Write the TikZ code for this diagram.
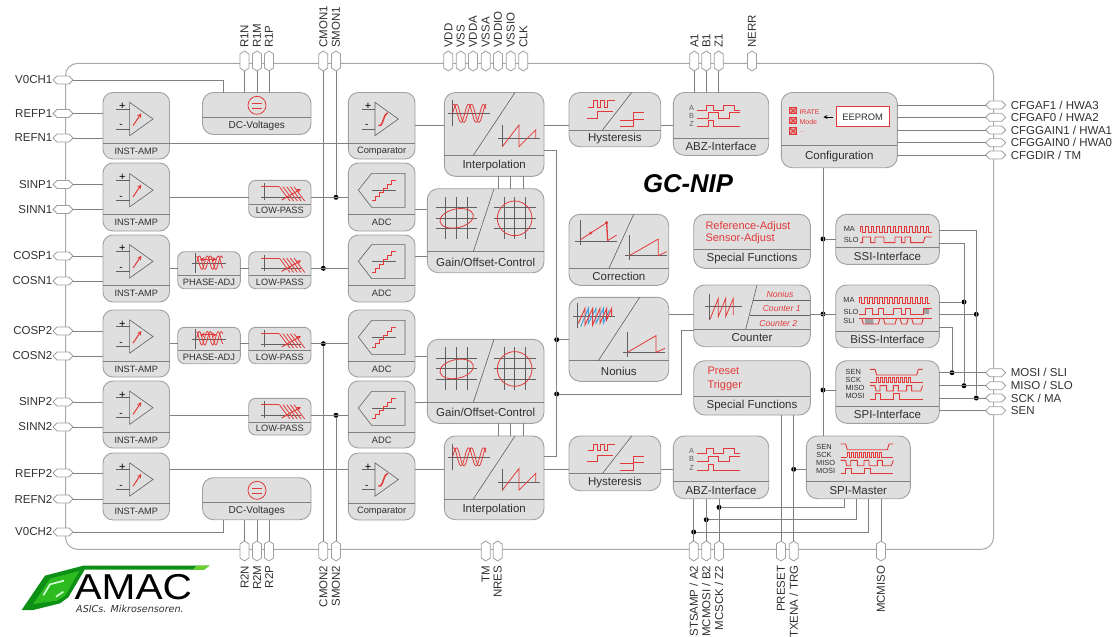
\documentclass[tikz,border=0pt]{standalone}
\usepackage{fontspec}
\usepackage{graphicx}
\setmainfont{Liberation Sans}
\newfontfamily\logofont{DejaVu Sans}
\definecolor{boxfill}{HTML}{DFDFDF}
\definecolor{boxline}{HTML}{A0A0A0}
\definecolor{wirec}{HTML}{808080}
\definecolor{framec}{HTML}{A8A8A8}
\definecolor{txt}{HTML}{303030}
\definecolor{redi}{HTML}{E23A3A}
\definecolor{bluei}{HTML}{3CA0E0}
\definecolor{axisc}{HTML}{606060}
\definecolor{logodark}{HTML}{0E8F16}
\definecolor{logobright}{HTML}{2DBB1F}
\definecolor{logotail}{HTML}{6CD02E}
\newcommand\fs[1]{\fontsize{#1}{#1}\selectfont}
\tikzset{
 blockbox/.style={draw=boxline,fill=boxfill,line width=.9pt,inner sep=0pt,outer sep=0pt,rectangle},
 sepline/.style={draw=wirec,line width=1pt},
 blocklabel/.style={text=txt,inner sep=0pt},
 wire/.style={draw=wirec,line width=1pt},
 framel/.style={draw=framec,line width=1pt},
 slashl/.style={draw=axisc,line width=.6pt},
 axisl/.style={draw=axisc,line width=.6pt},
 redw/.style={draw=redi,line width=.8pt},
 pinshape/.style={draw=boxline,fill=white,line width=.8pt},
 pinh/.style={rectangle,inner sep=0pt,outer sep=0pt,minimum width=20pt,minimum height=8pt},
 pinv/.style={rectangle,inner sep=0pt,outer sep=0pt,minimum width=9pt,minimum height=20pt},
 pintext/.style={text=txt,font=\fs{11.5},inner sep=0pt},
 junc/.style={circle,fill=black,inner sep=0pt,minimum size=5pt},
 icontext/.style={text=txt,font=\fs{7.4},inner sep=0pt},
 redtext/.style={text=redi,font=\fs{11},inner sep=0pt,anchor=west},
 reditalic/.style={text=redi,font=\fs{8.6}\itshape,inner sep=0pt},
}
% name x1 y1 x2 y2 sep label size radius
\newcommand\blk[9]{%
 \node[blockbox,rounded corners=#9pt,anchor=north west,minimum width={(#4-#2)*1pt},minimum height={(#5-#3)*1pt}] (#1) at (#2,#3) {};
 \draw[sepline] (#2,#6) -- (#4,#6);
 \node[blocklabel,font=\fs{#8}] (#1l) at ({(#2+#4)/2},{(#6+#5)/2}) {#7};}
\newcommand\hexh[2]{\draw[pinshape,shift={(#1,#2)}] (-10,0) -- (-6,-4) -- (6,-4) -- (10,0) -- (6,4) -- (-6,4) -- cycle;}
\newcommand\hexv[2]{\draw[pinshape,shift={(#1,#2)}] (0,-10) -- (4.5,-7) -- (4.5,7) -- (0,10) -- (-4.5,7) -- (-4.5,-7) -- cycle;}
\newcommand\pinL[3]{\hexh{63}{#2}\node[pinh] (p#1) at (63,#2) {}; \node[pintext,anchor=east] (t#1) at (52.5,#2) {#3};}
\newcommand\pinR[3]{\hexh{995.7}{#2}\node[pinh] (p#1) at (995.7,#2) {}; \node[pintext,anchor=west] (t#1) at (1010.7,#2) {#3};}
\newcommand\pinT[3]{\hexv{#2}{61}\node[pinv] (p#1) at (#2,61) {}; \node[pintext,rotate=90,anchor=west] (t#1) at (#2,48) {#3};}
\newcommand\pinB[3]{\hexv{#2}{551}\node[pinv] (p#1) at (#2,551) {}; \node[pintext,rotate=90,anchor=east] (t#1) at (#2,565.5) {#3};}
\newcommand\ico[3]{\begin{scope}[shift={(#1,#2)},scale=0.33333]#3\end{scope}}
\newcommand\pulses[5]{\draw[redw] (#1,#5) foreach \i in {1,...,#3} { -- ({#1+(\i-1)*#2},#4) -- ({#1+(\i-0.5)*#2},#4) -- ({#1+(\i-0.5)*#2},#5) -- ({#1+\i*#2},#5)};}
\newcommand\ampicon[1]{\ico{0}{#1}{
 \draw[draw=axisc,line width=.6pt] (389,307) -- (389,407) -- (459,357) -- cycle;
 \draw[axisl] (347,327) -- (389,327) (347,387) -- (389,387);
 \node[text=black,font=\fs{11},inner sep=0pt] (plus) at (367,319) {+};
 \node[text=black,font=\fs{10},inner sep=0pt] (minus) at (363,379) {-};
 \draw[draw=redi,line width=1pt,-stealth] (399,377) -- (424,340);}}
\newcommand\compicon[1]{\ico{340}{#1}{
 \draw[draw=axisc,line width=.6pt] (105,307) -- (105,407) -- (175,357) -- cycle;
 \draw[axisl] (65,327) -- (105,327) (65,387) -- (105,387);
 \node[text=black,font=\fs{11},inner sep=0pt] (plus) at (84,319) {+};
 \node[text=black,font=\fs{10},inner sep=0pt] (minus) at (80,379) {-};
 \draw[draw=redi,line width=1.5pt] (115,376) -- (122,376) .. controls (130,370) and (130,345) .. (143,338);}}
\newcommand\lpicon[1]{\ico{0}{#1}{
 \draw[axisl] (783,592) -- (903,592) (793,550) -- (793,600);
 \draw[redw,line width=1pt] (783,560) -- (838,560);
 \foreach \i in {0,...,4} {\draw[redw] ({838+\i*11},560) -- ({870+\i*11},603);}
 \draw[draw=redi,line width=1pt,-stealth] (845,600) -- (903,567);}}
\newcommand\phaseicon[1]{\ico{0}{#1}{
 \draw[axisl] (575,790) -- (677,790) (585,760) -- (585,820);
 \draw[redw] plot[domain=590:668,samples=50] (\x,{788-20*sin((\x-590)*11)});
 \draw[redw] plot[domain=590:668,samples=50] (\x,{788-20*sin((\x-590)*11+100)});
 \draw[draw=redi,line width=1pt,stealth-stealth] (600,778) -- (650,778);}}
\newcommand\adcicon[1]{\ico{340}{#1}{
 \draw[draw=axisc,line width=.6pt] (55,570) -- (95,520) -- (195,520) -- (195,622) -- (95,622) -- cycle;
 \draw[axisl] (95,570) -- (167,570);
 \draw[redw,line width=.9pt] (97,602) -- (107,602) -- (107,590) -- (118,590) -- (118,578) -- (130,578) -- (130,565) -- (143,565) -- (143,552) -- (155,552) -- (155,540) -- (167,540);}}
\newcommand\interpicon[1]{\ico{340}{#1}{
 \draw[axisl] (325,340) -- (450,340) (338,300) -- (338,378);
 \draw[redw] plot[domain=338:438,samples=60] (\x,{340-27*sin((\x-338)*8)});
 \draw[redw] plot[domain=338:438,samples=60] (\x,{340-27*sin((\x-338)*8+70)});
 \draw[axisl] (475,415) -- (600,415) (487,375) -- (487,442);
 \draw[redw] (487,440) -- (537,375) -- (537,440) -- (587,390) -- (587,415);}}
\newcommand\gainicon[1]{\ico{340}{#1}{
 \draw[axisl] (287,622) -- (412,622) (287,686) -- (412,686) (317,590) -- (317,718) (349,590) -- (349,718) (381,590) -- (381,718);
 \draw[draw=axisc,line width=1pt] (287,655) -- (412,655);
 \draw[redw,rotate around={12:(350,655)}] (350,655) ellipse [x radius=51,y radius=28];
 \draw[axisl] (461,622) -- (587,622) (461,686) -- (587,686) (492,590) -- (492,718) (524,590) -- (524,718) (556,590) -- (556,718);
 \draw[draw=axisc,line width=1pt] (461,655) -- (587,655);
 \draw[redw] (524,655) circle [radius=52];}}
\newcommand\hysticon[1]{\ico{340}{#1}{
 \draw[redw] (743,322) -- (760,322) -- (760,302) -- (772,302) -- (772,322) -- (782,322) -- (782,302) -- (792,302) -- (792,322) -- (803,322) -- (803,302) -- (825,302);
 \draw[redw] (740,355) -- (772,355) -- (772,335) -- (820,335);
 \draw[redw] (840,360) -- (880,360) -- (880,338) -- (912,338);
 \draw[redw] (840,380) -- (880,380) -- (880,358) -- (912,358);}}
\newcommand\abzicon[1]{\ico{680}{#1}{
 \node[icontext,text=axisc] (la) at (35,323) {A};
 \node[icontext,text=axisc] (lb) at (35,347) {B};
 \node[icontext,text=axisc] (lz) at (35,372) {Z};
 \draw[redw] (52,330) -- (80,330) -- (80,315) -- (100,315) -- (100,330) -- (130,330) -- (130,315) -- (163,315) -- (163,330) -- (180,330);
 \draw[redw] (52,354) -- (85,354) -- (85,338) -- (115,338) -- (115,354) -- (147,354) -- (147,338) -- (180,338);
 \draw[redw] (52,379) -- (85,379) -- (85,362) -- (100,362) -- (100,379) -- (180,379);}}
\newcommand\spiicon[2]{\ico{#1}{#2}{
 \node[icontext] (l1) at (910,337) {SEN};
 \node[icontext] (l2) at (910,361) {SCK};
 \node[icontext] (l3) at (915,385) {MISO};
 \node[icontext] (l4) at (915,409) {MOSI};
 \draw[redw,line width=.9pt] (960,328) -- (975,328) -- (980,345) -- (1100,345) -- (1105,328) -- (1118,328);
 \draw[redw,line width=.9pt] (960,368) -- (980,368);
 \pulses{980}{12}{9}{352}{368}
 \draw[redw,line width=.9pt] (1088,368) -- (1118,368);
 \draw[redw,line width=.9pt] (960,377) -- (975,377) -- (978,393) -- (990,393) -- (990,377) -- (1010,377) -- (1010,393) -- (1030,393) -- (1030,377) -- (1045,377) -- (1045,393) -- (1070,393) -- (1070,377) -- (1085,377) -- (1085,393) -- (1112,393) -- (1118,377);
 \draw[redw,line width=.9pt] (960,417) -- (975,417) -- (975,400) -- (992,400) -- (992,417) -- (1030,417) -- (1030,400) -- (1048,400) -- (1048,417) -- (1118,417);}}
\begin{document}
\begin{tikzpicture}[x=1pt,y=-1pt]
\useasboundingbox (0,0) rectangle (1117,637);
% outer frame
\draw[framel,rounded corners=12pt] (65.5,63.4) rectangle (993.5,549.3);
% pins
\pinL{VA}{80}{V0CH1}\pinL{RP1}{113.5}{REFP1}\pinL{RN1}{138}{REFN1}
\pinL{SP1}{184.5}{SINP1}\pinL{SN1}{209.5}{SINN1}
\pinL{CP1}{256}{COSP1}\pinL{CN1}{281}{COSN1}
\pinL{CP2}{331}{COSP2}\pinL{CN2}{356}{COSN2}
\pinL{SP2}{402}{SINP2}\pinL{SN2}{427}{SINN2}
\pinL{RP2}{473}{REFP2}\pinL{RN2}{499}{REFN2}\pinL{VB}{532}{V0CH2}
\pinT{R1N}{244.5}{R1N}\pinT{R1M}{257}{R1M}\pinT{R1P}{269}{R1P}
\pinT{CM1}{323.3}{CMON1}\pinT{SM1}{336}{SMON1}
\pinT{VDD}{448.3}{VDD}\pinT{VSS}{460.7}{VSS}\pinT{VDDA}{473}{VDDA}\pinT{VSSA}{485.7}{VSSA}
\pinT{VDDIO}{498}{VDDIO}\pinT{VSSIO}{510.7}{VSSIO}\pinT{CLK}{523.3}{CLK}
\pinT{A1}{694.3}{A1}\pinT{B1}{706.3}{B1}\pinT{Z1}{718.7}{Z1}\pinT{NERR}{752}{NERR}
\pinB{R2N}{244.5}{R2N}\pinB{R2M}{257}{R2M}\pinB{R2P}{269}{R2P}
\pinB{CM2}{323.3}{CMON2}\pinB{SM2}{336}{SMON2}
\pinB{TM}{485.7}{TM}\pinB{NRES}{497.7}{NRES}
\pinB{A2}{693.7}{STSAMP / A2}\pinB{B2}{706.3}{MCMOSI / B2}\pinB{Z2}{719}{MCSCK / Z2}
\pinB{PRE}{781}{PRESET}\pinB{TXE}{793.7}{TXENA / TRG}\pinB{MCM}{881}{MCMISO}
\pinR{CF1}{105}{CFGAF1 / HWA3}\pinR{CF2}{117.3}{CFGAF0 / HWA2}\pinR{CF3}{130}{CFGGAIN1 / HWA1}
\pinR{CF4}{142.7}{CFGGAIN0 / HWA0}\pinR{CF5}{155}{CFGDIR / TM}
\pinR{MOSI}{372.7}{MOSI / SLI}\pinR{MISO}{385.7}{MISO / SLO}\pinR{SCK}{398}{SCK / MA}\pinR{SEN}{410.7}{SEN}
% blocks
\blk{amp1}{103}{92.5}{169.5}{159}{143}{INST-AMP}{9.2}{10}
\blk{amp2}{103}{163}{169.5}{231}{214}{INST-AMP}{9.2}{10}
\blk{amp3}{103}{235}{169.5}{302}{285}{INST-AMP}{9.2}{10}
\blk{amp4}{103}{310}{169.5}{377}{361}{INST-AMP}{9.2}{10}
\blk{amp5}{103}{381}{169.5}{448}{432}{INST-AMP}{9.2}{10}
\blk{amp6}{103}{453}{169.5}{520}{503}{INST-AMP}{9.2}{10}
\blk{dc1}{202.5}{92.5}{311}{134.5}{117.5}{DC-Voltages}{10}{11}
\blk{dc2}{202.5}{477.7}{311}{519.7}{502.7}{DC-Voltages}{10}{11}
\blk{lp1}{248.7}{180.3}{311}{217.3}{204.3}{LOW-PASS}{9.2}{7}
\blk{lp2}{248.7}{251.7}{311}{288.7}{275.3}{LOW-PASS}{9.2}{7}
\blk{lp3}{248.7}{327.3}{311}{363.7}{350.7}{LOW-PASS}{9.2}{7}
\blk{lp4}{248.7}{398.3}{311}{435}{422}{LOW-PASS}{9.2}{7}
\blk{ph1}{177.7}{251.7}{240.3}{288.7}{275.3}{PHASE-ADJ}{9.3}{7}
\blk{ph2}{177.7}{327.3}{240.3}{363.7}{350.7}{PHASE-ADJ}{9.3}{7}
\blk{cmp1}{348.3}{92.5}{415}{159}{143}{Comparator}{9.3}{10}
\blk{adc1}{348.3}{163}{415}{231}{214}{ADC}{9.3}{10}
\blk{adc2}{348.3}{235}{415}{302}{285}{ADC}{9.3}{10}
\blk{adc3}{348.3}{310}{415}{377}{361}{ADC}{9.3}{10}
\blk{adc4}{348.3}{381}{415}{448}{432}{ADC}{9.3}{10}
\blk{cmp2}{348.3}{453}{415}{520}{503}{Comparator}{9.3}{10}
\blk{int1}{444.3}{92.5}{544}{176.3}{155.3}{Interpolation}{11.5}{11}
\blk{int2}{444.3}{436}{544}{519.7}{499}{Interpolation}{11.5}{11}
\blk{gain1}{427.3}{188.7}{544}{272.7}{251.7}{Gain/Offset-Control}{11.5}{11}
\blk{gain2}{427.3}{339.3}{544}{423.3}{402.3}{Gain/Offset-Control}{11.5}{11}
\blk{hyst1}{569}{92.5}{660.7}{146.7}{130.3}{Hysteresis}{11.5}{11}
\blk{hyst2}{569}{436}{660.7}{490.7}{473.7}{Hysteresis}{11.5}{11}
\blk{abz1}{673.3}{92.5}{768.7}{155.3}{138.3}{ABZ-Interface}{11.5}{11}
\blk{abz2}{673.3}{436}{768.7}{498.7}{481.7}{ABZ-Interface}{11.5}{11}
\blk{cfg}{781.3}{92.5}{897.3}{167.7}{145}{Configuration}{11.5}{11}
\blk{corr}{569}{214.3}{668.7}{285.3}{268.3}{Correction}{11.5}{11}
\blk{non}{569}{297.3}{668.7}{381.3}{360.7}{Nonius}{11.5}{11}
\blk{spf1}{693.7}{214.3}{810.3}{268.3}{249.3}{Special Functions}{11.5}{11}
\blk{cnt}{693.7}{285}{810.3}{346.7}{329.3}{Counter}{11.5}{11}
\blk{spf2}{693.7}{360.7}{810.3}{415}{396.3}{Special Functions}{11.5}{11}
\blk{ssi}{835.7}{214.3}{939.3}{264.3}{247.7}{SSI-Interface}{11.5}{11}
\blk{biss}{835.7}{285}{939.3}{347.7}{331.3}{BiSS-Interface}{11.5}{11}
\blk{spi}{835.7}{360.7}{939.3}{423.3}{406.3}{SPI-Interface}{11.5}{11}
\blk{mst}{806.3}{436}{910.3}{498.7}{481.7}{SPI-Master}{11.5}{11}
% slashes
\draw[slashl] (515,92.5) -- (473.3,155.3) (515,436) -- (473.3,499);
\draw[slashl] (494,188.7) -- (473.3,251.7) (494,339.3) -- (473.3,402.3);
\draw[slashl] (631.7,92.5) -- (602.3,130.3) (631.7,436) -- (602.3,473.7);
\draw[slashl] (633.7,214.3) -- (609,268.3) (639.7,297.3) -- (598.3,360.7);
\draw[slashl] (757,285) -- (745.7,329.3);
\draw[slashl] (753.4,300.7) -- (810.3,300.7) (749.8,315) -- (810.3,315);
% icons
\ampicon{0}\ampicon{71.2}\ampicon{142.4}\ampicon{217.5}\ampicon{288.7}\ampicon{360.5}
\compicon{0}\compicon{360.5}
\lpicon{0}\lpicon{71.4}\lpicon{147}\lpicon{218}
\phaseicon{0}\phaseicon{75.6}
\adcicon{0}\adcicon{71.3}\adcicon{147}\adcicon{218}
\interpicon{0}\interpicon{343.5}
\gainicon{0}\gainicon{150.6}
\hysticon{0}\hysticon{343.5}
\abzicon{0}\abzicon{343.7}
\foreach \dy in {0,385} {\ico{0}{\dy}{
 \draw[redw,line width=.8pt] (771,316) circle [radius=27];
 \draw[redw,line width=.8pt] (755,309) -- (787,309) (755,324) -- (787,324);}}
% correction icon
\ico{340}{0}{
 \draw[axisl] (705,723) -- (832,723) (720,660) -- (720,735);
 \draw[redw] (720,720) -- (800,668);
 \draw[redw,line width=1.3pt] (800,668) -- (803,722);
 \draw[redw] (803,722) -- (830,705);
 \fill[redi] (752,699) circle [radius=5] (800,668) circle [radius=5];
 \draw[axisl] (868,705) -- (868,780);
 \draw[draw=axisc,line width=1pt] (855,767) -- (980,767);
 \draw[redw] (868,767) -- (955,717) -- (955,767) -- (980,755);}
% nonius icon
\ico{550}{260}{
 \draw[axisl] (70,170) -- (195,170) (82,130) -- (82,205);
 \draw[draw=bluei,line width=.9pt] (92,200) -- (115,145) -- (115,190) -- (138,145) -- (138,190) -- (160,145) -- (160,190) -- (178,150);
 \draw[redw,line width=.9pt] (85,190) -- (105,145) -- (105,195) -- (128,145) -- (128,195) -- (150,145) -- (150,190) -- (170,145) -- (170,180) -- (185,145) -- (185,170);
 \draw[axisl] (220,277) -- (345,277) (232,215) -- (232,290);
 \draw[redw] (232,277) -- (318,227) -- (318,277) -- (345,265);
 % counter icon
 \draw[axisl] (465,140) -- (575,140) (477,102) -- (477,180);
 \draw[redw] (480,178) -- (505,115) -- (505,170) -- (527,115) -- (527,170) -- (550,115) -- (550,165);
 \node[reditalic] (cn1) at (690,102) {Nonius};
 \node[reditalic] (cn2) at (695,146) {Counter 1};
 \node[reditalic] (cn3) at (685,190) {Counter 2};
 % biss icon
 \node[icontext] (bma) at (897,120) {MA};
 \node[icontext] (bsl) at (903,155) {SLO};
 \node[icontext] (bsi) at (897,184) {SLI};
 \fill[boxline] (1120,147) rectangle (1137,162) (945,177) rectangle (970,192);
 \pulses{928}{15.2}{14}{113}{130}
 \draw[redw,line width=.9pt] (928,162) -- (945,162) -- (945,145) -- (968,145) -- (968,162) -- (985,162) -- (985,145) -- (1000,145) -- (1000,162) -- (1030,162) -- (1030,145) -- (1055,145) -- (1055,162) -- (1065,162) -- (1065,145) -- (1080,145) -- (1080,162) -- (1120,162) -- (1120,145) -- (1145,145);
 \draw[redw,line width=.9pt] (928,175) -- (1145,175);
 \draw[redw,line width=.9pt] (935,175) -- (940,192) -- (985,192) -- (990,175) (1000,175) -- (1005,192) -- (1035,192) -- (1040,175) (1050,175) -- (1055,192) -- (1070,192) -- (1075,175) (1085,175) -- (1090,192) -- (1115,192) -- (1120,175);
}
\spiicon{550}{260}
\spiicon{520.7}{334.7}
% ssi icon
\ico{680}{0}{
 \node[icontext] (sma) at (508,688) {MA};
 \node[icontext] (ssl) at (514,720) {SLO};
 \pulses{540}{16.5}{13}{680}{697}
 \draw[redw,line width=.9pt] (540,728) -- (548,728) -- (548,711) -- (572,711) -- (572,728) -- (585,728) -- (585,711) -- (612,711) -- (612,728) -- (645,728) -- (645,711) -- (665,711) -- (665,728) -- (675,728) -- (675,711) -- (692,711) -- (692,728) -- (730,728) -- (735,711) -- (755,711);
 % configuration icon
 \foreach \yy in {332,362,393} {
  \draw[redw,line width=1pt,fill=boxfill!60!redi] (329,{\yy-10}) rectangle (350,{\yy+10});
  \draw[redw] (331,{\yy-8}) -- (348,{\yy+8}) (331,{\yy+8}) -- (348,{\yy-8});}
 \node[text=redi,font=\fs{7},inner sep=0pt,anchor=west] (ci1) at (358,335) {IRATE};
 \node[text=redi,font=\fs{7},inner sep=0pt,anchor=west] (ci2) at (358,365) {Mode};
 \node[text=redi!70,font=\fs{7},inner sep=0pt,anchor=west] (ci3) at (358,396) {...};
 \draw[draw=black,line width=.8pt,-stealth] (460,351) -- (430,351);
 \node[draw=redi,fill=white,line width=1pt,minimum width=53pt,minimum height=20pt,inner sep=0pt,font=\fs{9.4},text=txt] (eep) at (548,351) {EEPROM};
}
% texts
\node[redtext] (ra) at (705.3,227) {Reference-Adjust};
\node[redtext] (sa) at (705.3,239) {Sensor-Adjust};
\node[redtext] (pr) at (707.3,371) {Preset};
\node[redtext] (tr) at (707.3,385.7) {Trigger};
\node[text=black,font=\fs{25.7}\bfseries\itshape,inner sep=0pt] (title) at (688,184) {GC-NIP};
% junctions
\node[junc] (dS1) at (336,197.3) {};
\node[junc] (dC1) at (323.3,268.3) {};
\node[junc] (dC2) at (323.3,343.7) {};
\node[junc] (dS2) at (336,415.3) {};
\node[junc] (dN) at (556.7,339.7) {};
\node[junc] (dK) at (556.7,394) {};
\node[junc] (bA) at (823,239) {};
\node[junc] (bB) at (823,314) {};
\node[junc] (bC) at (823,390) {};
\node[junc] (jSLI) at (952,372.7) {};
\node[junc] (jMIS) at (964,385.7) {};
\node[junc] (jSCK) at (976.3,398) {};
\node[junc] (jBMA) at (964,302) {};
\node[junc] (jBSL) at (976.3,314.3) {};
\node[junc] (jZ) at (719,507.3) {};
\node[junc] (jB) at (706.3,519.7) {};
\node[junc] (jA) at (693.7,532) {};
\node[junc] (jT) at (793.7,469.3) {};
\coordinate (v0a) at (223.7,80);
\coordinate (v0b) at (223.7,532);
\coordinate (busA) at (556.7,150.3);
\coordinate (busB) at (556.7,456.7);
\coordinate (kA) at (681.5,394);
\coordinate (kB) at (681.5,330.7);
\coordinate (ssA) at (976.3,230.3);
\coordinate (ssB) at (964,243.3);
\coordinate (slA) at (952,327.3);
\coordinate (mA) at (844,507.3);
\coordinate (mB) at (856,519.7);
\coordinate (mC) at (868.7,532);
% connectors, left pins
\foreach \p/\b in {RP1/amp1,RN1/amp1,SP1/amp2,SN1/amp2,CP1/amp3,CN1/amp3,CP2/amp4,CN2/amp4,SP2/amp5,SN2/amp5,RP2/amp6,RN2/amp6}
 {\draw[wire] (p\p) -- (p\p -| \b.west);}
\draw[wire] (pVA) -- (v0a) -- (v0a |- dc1.north);
\draw[wire] (pVB) -- (v0b) -- (v0b |- dc2.south);
\foreach \p in {R1N,R1M,R1P} {\draw[wire] (p\p) -- (p\p |- dc1.north);}
\foreach \p in {R2N,R2M,R2P} {\draw[wire] (p\p) -- (p\p |- dc2.south);}
\foreach \p in {A1,B1,Z1} {\draw[wire] (p\p) -- (p\p |- abz1.north);}
% first half chains
\draw[wire] (amp1.east |- 0,143) -- (cmp1.west |- 0,143);
\draw[wire] (amp6.east |- 0,469.3) -- (cmp2.west |- 0,469.3);
\draw[wire] (amp2.east |- dS1) -- (lp1.west |- dS1);
\draw[wire] (lp1.east |- dS1) -- (adc1.west |- dS1);
\draw[wire] (amp3.east |- dC1) -- (ph1.west |- dC1);
\draw[wire] (ph1.east |- dC1) -- (lp2.west |- dC1);
\draw[wire] (lp2.east |- dC1) -- (adc2.west |- dC1);
\draw[wire] (amp4.east |- dC2) -- (ph2.west |- dC2);
\draw[wire] (ph2.east |- dC2) -- (lp3.west |- dC2);
\draw[wire] (lp3.east |- dC2) -- (adc3.west |- dC2);
\draw[wire] (amp5.east |- dS2) -- (lp4.west |- dS2);
\draw[wire] (lp4.east |- dS2) -- (adc4.west |- dS2);
\draw[wire] (pCM1) -- (dC1);
\draw[wire] (pSM1) -- (dS1);
\draw[wire] (pCM2) -- (dC2);
\draw[wire] (pSM2) -- (dS2);
\draw[wire] (cmp1.east |- 0,125.7) -- (int1.west |- 0,125.7);
\draw[wire] (cmp2.east |- 0,469.3) -- (int2.west |- 0,469.3);
\draw[wire] (adc1.east |- 0,209.3) -- (gain1.west |- 0,209.3);
\draw[wire] (adc2.east |- 0,256) -- (gain1.west |- 0,256);
\draw[wire] (adc3.east |- 0,356.3) -- (gain2.west |- 0,356.3);
\draw[wire] (adc4.east |- 0,402.3) -- (gain2.west |- 0,402.3);
\foreach \xx in {498.3,510.7,523} {
 \draw[wire] (int1.south -| \xx,0) -- (gain1.north -| \xx,0);
 \draw[wire] (gain2.south -| \xx,0) -- (int2.north -| \xx,0);}
\draw[wire] (int1.east |- 0,125.7) -- (hyst1.west |- 0,125.7);
\draw[wire] (int2.east |- 0,469.3) -- (hyst2.west |- 0,469.3);
\draw[wire] (hyst1.east |- 0,125.7) -- (abz1.west |- 0,125.7);
\draw[wire] (hyst2.east |- 0,469.3) -- (abz2.west |- 0,469.3);
\draw[wire] (int1.east |- busA) -- (busA) -- (busB) -- (int2.east |- busB);
\draw[wire] (dN) -- (non.west |- dN);
\draw[wire] (dK) -- (kA) -- (kB) -- (cnt.west |- kB);
\draw[wire] (non.east |- bB) -- (cnt.west |- bB);
\draw[wire] (cnt.east |- bB) -- (biss.west |- bB);
\draw[wire] (cfg.south -| bA) -- (mst.north -| bA);
\draw[wire] (bA) -- (ssi.west |- bA);
\draw[wire] (bC) -- (spi.west |- bC);
% right side
\foreach \p in {CF1,CF2,CF3,CF4,CF5} {\draw[wire] (cfg.east |- p\p) -- (p\p);}
\foreach \p in {MOSI,MISO,SCK,SEN} {\draw[wire] (spi.east |- p\p) -- (p\p);}
\draw[wire] (ssi.east |- ssA) -- (ssA) -- (jSCK);
\draw[wire] (ssi.east |- ssB) -- (ssB) -- (jMIS);
\draw[wire] (biss.east |- jBMA) -- (jBMA);
\draw[wire] (biss.east |- jBSL) -- (jBSL);
\draw[wire] (biss.east |- slA) -- (slA) -- (jSLI);
% bottom
\foreach \p in {A2,B2,Z2} {\draw[wire] (p\p) -- (p\p |- abz2.south);}
\draw[wire] (mst.south -| mA) -- (mA) -- (jZ);
\draw[wire] (mst.south -| mB) -- (mB) -- (jB);
\draw[wire] (mst.south -| mC) -- (mC) -- (jA);
\draw[wire] (pMCM) -- (pMCM |- mst.south);
\draw[wire] (pPRE) -- (pPRE |- spf2.south);
\draw[wire] (pTXE) -- (pTXE |- spf2.south);
\draw[wire] (jT) -- (mst.west |- jT);
% logo
\begin{scope}[shift={(0,310)},scale=0.33333]
 \fill[logodark] (65,900) -- (135,797) -- (250,767) -- (628,767) -- (612,779) -- (254,779) -- (205,862) -- (180,880) -- (100,900) -- cycle;
 \fill[logobright] (100,882) -- (150,806) -- (238,783) -- (195,858) -- (170,872) -- cycle;
 \fill[logotail] (590,767) -- (628,767) -- (612,779) -- (578,779) -- cycle;
 \draw[white!85!green,line width=1.6pt] (130,856) -- (150,823) -- (192,812);
 \draw[white!85!green,line width=1.6pt] (168,860) -- (190,845);
\end{scope}
\node[text=black,inner sep=0pt,font=\fs{36}] (amac) at (133.3,587.5) {\scalebox{1.13}[1]{AMAC}};
\node[text=txt,inner sep=0pt,font=\logofont\fs{9.6}\itshape] (asics) at (130,609) {ASICs. Mikrosensoren.};
\end{tikzpicture}
\end{document}
